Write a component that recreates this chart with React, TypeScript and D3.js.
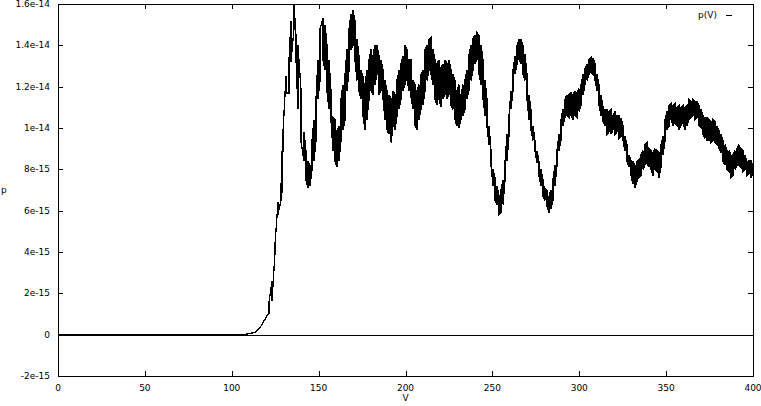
import React from "react";
import * as d3 from "d3";

// V sample positions
const vValues = [0,107.6,109.4,113.4,116.3,118.0,120.3,121.4,123.2,124.9,126.6,128.3,128.9,129.5,131.2,132.9,134.1,135.8,137.0,138.1,139.9,141.6,142.7,143.9,145.0,146.2,147.3,148.5,149.6,150.8,152.5,153.7,154.8,156.0,157.1,158.3,159.4,160.6,161.7,162.9,164.0,165.2,166.3,167.5,168.6,169.8,170.9,172.1,173.2,174.4,175.5,176.7,177.8,179.0,180.1,181.3,182.4,183.6,184.7,185.9,187.1,188.2,189.4,190.5,191.7,192.8,194.0,195.1,196.3,197.4,198.6,199.7,200.9,202.0,203.2,204.3,205.5,206.6,207.8,208.9,210.1,211.2,212.4,213.5,214.7,215.8,217.0,218.1,219.3,220.4,221.6,222.7,223.9,225.0,226.2,227.3,228.5,229.6,230.8,231.9,233.1,234.2,235.4,236.5,237.7,238.8,240.0,241.2,242.3,243.5,244.6,245.8,246.9,248.1,249.2,250.4,251.5,252.7,253.8,255.0,256.1,257.3,258.4,259.6,260.7,261.9,263.0,264.2,265.3,266.5,267.6,268.8,269.9,271.1,272.2,273.4,274.5,275.7,276.8,278.0,279.1,280.3,281.4,282.6,283.7,284.9,286.0,287.2,288.3,289.5,290.6,291.8,292.9,294.1,295.3,296.4,297.6,298.7,299.9,301.0,302.2,303.3,304.5,305.6,306.8,307.9,309.1,310.2,311.4,312.5,313.7,314.8,316.0,317.1,318.3,319.4,320.6,321.7,322.9,324.0,325.2,326.3,327.5,328.6,329.8,330.9,332.1,333.2,334.4,335.5,336.7,337.8,339.0,340.1,341.3,342.4,343.6,344.7,345.9,347.1,348.2,349.4,350.5,351.7,352.8,354.0,355.1,356.3,357.4,358.6,359.7,360.9,362.0,363.2,364.3,365.5,366.6,367.8,368.9,370.1,371.2,372.4,373.5,374.7,375.8,377.0,378.1,379.3,380.4,381.6,382.7,383.9,385.0,386.2,387.3,388.5,389.6,390.8,391.9,393.1,394.2,395.4,396.5,397.7,398.8,400.0];

// p(V) upper swing, in units of 1e-15
const pUpper = [0,0,0.05,0.1,0.34,0.58,0.92,1.55,2.6,4.4,6.4,6.85,8.9,9.8,12.5,13.2,15.2,16.0,14.4,14.0,11.8,9.8,8.9,8.4,8.2,9.4,10.4,11.4,13.3,14.8,15.3,15.0,14.0,13.3,11.8,10.5,10.4,9.9,10.1,11.4,12.1,12.6,13.8,14.8,15.5,15.7,15.2,14.3,13.5,12.8,12.5,12.1,12.8,13.3,13.8,13.5,14.0,14.0,13.5,13.3,12.8,12.3,11.8,11.6,11.4,11.8,11.6,12.3,12.8,13.1,13.5,14.0,13.8,13.3,13.3,12.3,12.1,11.8,12.1,12.6,12.8,13.8,14.0,14.3,14.4,13.8,13.3,13.1,13.3,12.9,13.1,13.3,13.1,13.3,12.8,12.6,12.3,11.8,12.1,11.6,12.1,12.3,12.8,13.5,14.0,14.3,14.5,14.6,14.5,14.0,13.3,12.3,11.4,10.1,8.9,8.0,7.6,7.2,6.7,7.0,7.5,8.4,9.7,10.6,11.8,12.8,13.5,14.0,14.3,14.3,14.0,13.6,12.6,11.6,10.9,10.1,9.4,8.9,8.4,8.0,7.5,7.1,7.0,6.7,7.0,7.5,8.2,8.9,9.7,10.4,10.9,11.4,11.6,11.6,11.7,11.6,11.8,11.7,11.9,12.1,12.6,12.9,13.1,13.3,13.4,13.4,13.1,12.6,12.1,11.6,11.0,10.9,10.9,10.8,10.9,10.6,10.8,10.6,10.6,10.5,10.1,9.6,9.2,8.7,8.4,8.4,8.2,8.4,8.5,8.7,8.9,9.2,9.3,9.0,8.9,8.8,9.0,8.9,8.8,9.2,9.6,10.4,10.8,11.1,11.2,11.1,11.2,11.0,11.1,11.0,11.1,11.0,11.1,11.4,11.3,11.4,11.3,11.3,11.1,10.9,10.6,10.5,10.5,10.4,10.3,10.4,10.3,10.1,9.9,9.7,9.4,9.2,8.9,8.9,8.7,8.7,8.9,9.0,9.2,9.0,8.9,8.7,8.4,8.4,8.4,8.3];

// p(V) lower swing, in units of 1e-15
const pLower = [0,0,0.05,0.1,0.34,0.58,0.92,1.0,1.65,4.0,5.8,6.5,6.85,9.1,11.7,11.7,13.2,14.8,13.3,10.9,9.3,8.4,7.5,7.1,7.2,8.0,8.4,9.4,11.4,12.3,13.3,12.8,11.8,10.9,10.4,8.9,8.4,8.1,8.4,9.4,9.9,10.4,11.8,12.8,13.8,14.0,13.3,12.3,11.8,11.4,10.6,9.9,10.4,11.4,11.8,11.6,12.1,12.6,11.6,11.8,11.4,10.4,9.9,9.7,9.3,10.1,9.9,10.6,10.9,11.4,11.8,12.1,12.3,11.8,11.5,10.9,10.1,9.9,10.4,10.9,11.1,11.8,12.3,12.8,12.6,12.1,11.4,11.1,11.4,11.0,11.4,11.6,11.4,11.6,11.1,10.9,10.4,10.1,10.0,10.4,10.6,10.9,11.4,11.8,12.3,12.8,13.1,13.3,12.6,12.1,11.4,10.6,10.1,9.2,8.2,7.2,6.5,6.3,5.8,5.9,6.3,7.5,8.4,9.7,10.9,11.8,12.6,13.1,13.3,13.1,12.6,12.3,11.4,10.4,9.9,9.4,8.9,8.3,7.7,7.2,6.7,6.5,6.2,5.9,6.1,6.5,7.2,8.2,8.9,9.4,10.1,10.5,10.6,10.5,10.6,10.4,10.6,10.5,10.8,11.1,11.6,12.1,12.3,12.6,12.7,12.6,12.3,11.8,11.1,10.6,10.3,10.1,9.7,9.8,9.7,9.9,9.7,9.8,9.5,9.6,9.4,8.9,8.4,8.1,7.7,7.3,7.1,7.4,7.6,7.7,8.0,8.2,8.3,8.1,8.0,7.7,8.0,7.9,7.6,8.1,8.7,9.4,9.9,10.1,10.4,10.1,10.2,10.1,9.9,10.1,10.2,9.9,10.1,10.4,10.5,10.6,10.4,10.5,10.1,10.0,9.7,9.5,9.4,9.4,9.3,9.4,9.3,9.2,9.0,8.8,8.4,8.2,8.0,7.9,7.6,7.7,8.0,8.2,8.2,8.1,7.9,8.0,7.7,7.8,7.6,7.8];

const xTicks = [0, 50, 100, 150, 200, 250, 300, 350, 400];
const xTickLabels = ["0", "50", "100", "150", "200", "250", "300", "350", "400"];
const yTicks = [-2e-15, 0, 2e-15, 4e-15, 6e-15, 8e-15, 1e-14, 1.2e-14, 1.4e-14, 1.6e-14];
const yTickLabels = ["-2e-15", "0", "2e-15", "4e-15", "6e-15", "8e-15", "1e-14", "1.2e-14", "1.4e-14", "1.6e-14"];
const xLabel = "V";
const yLabel = "p";
const legendLabel = "p(V)";

const W = 761, H = 406;
const L = 58, R = 753, T = 4, B = 376;

export default function App() {
  const x = d3.scaleLinear().domain([0, 400]).range([L, R]);
  const y = d3.scaleLinear().domain([-2e-15, 1.6e-14]).range([B, T]);

  const pts: [number, number][] = [];
  vValues.forEach((v, i) => {
    const hi = pUpper[i] * 1e-15;
    const lo = pLower[i] * 1e-15;
    if (i % 2 === 0) {
      pts.push([v, hi]);
      pts.push([v, lo]);
    } else {
      pts.push([v, lo]);
      pts.push([v, hi]);
    }
  });
  const line = d3.line<[number, number]>().x(d => x(d[0])).y(d => y(d[1]));
  const font = "'DejaVu Sans', sans-serif";
  const tick = 5;

  return (
    <svg width={W} height={H} style={{ position: "absolute", left: 0, top: 0, background: "#fff" }}>
      <rect x={0} y={0} width={W} height={H} fill="#fff" />
      {/* zero line */}
      <line x1={L} x2={R} y1={Math.round(y(0)) + 0.5} y2={Math.round(y(0)) + 0.5} stroke="#000" strokeWidth={1} shapeRendering="crispEdges" />
      {/* ticks */}
      {yTicks.map((t, i) => {
        const yy = Math.round(y(t)) + 0.5;
        return (
          <g key={"y" + i}>
            <line x1={L} x2={L + tick} y1={yy} y2={yy} stroke="#000" shapeRendering="crispEdges" />
            <line x1={R - tick} x2={R} y1={yy} y2={yy} stroke="#000" shapeRendering="crispEdges" />
            <text x={L - 8} y={y(t)} dy="0.35em" textAnchor="end" fontFamily={font} fontSize={9} fill="#000">{yTickLabels[i]}</text>
          </g>
        );
      })}
      {xTicks.map((t, i) => {
        const xx = Math.round(x(t)) + 0.5;
        return (
          <g key={"x" + i}>
            <line x1={xx} x2={xx} y1={B} y2={B - tick} stroke="#000" shapeRendering="crispEdges" />
            <line x1={xx} x2={xx} y1={T} y2={T + tick} stroke="#000" shapeRendering="crispEdges" />
            <text x={x(t)} y={391} textAnchor="middle" fontFamily={font} fontSize={9} fill="#000">{xTickLabels[i]}</text>
          </g>
        );
      })}
      {/* data */}
      <path d={line(pts) || ""} fill="none" stroke="#000" strokeWidth={1.3} shapeRendering="crispEdges" />
      {/* frame */}
      <rect x={L + 0.5} y={T + 0.5} width={R - L} height={B - T} fill="none" stroke="#000" strokeWidth={1} shapeRendering="crispEdges" />
      {/* labels */}
      <text x={(L + R) / 2} y={401} textAnchor="middle" fontFamily={font} fontSize={9} fill="#000">{xLabel}</text>
      <text x={1} y={193} fontFamily={font} fontSize={9} fill="#000">{yLabel}</text>
      {/* legend */}
      <text x={717} y={18} textAnchor="end" fontFamily={font} fontSize={9} fill="#000">{legendLabel}</text>
      <line x1={726} x2={732} y1={15.5} y2={15.5} stroke="#000" shapeRendering="crispEdges" />
    </svg>
  );
}
